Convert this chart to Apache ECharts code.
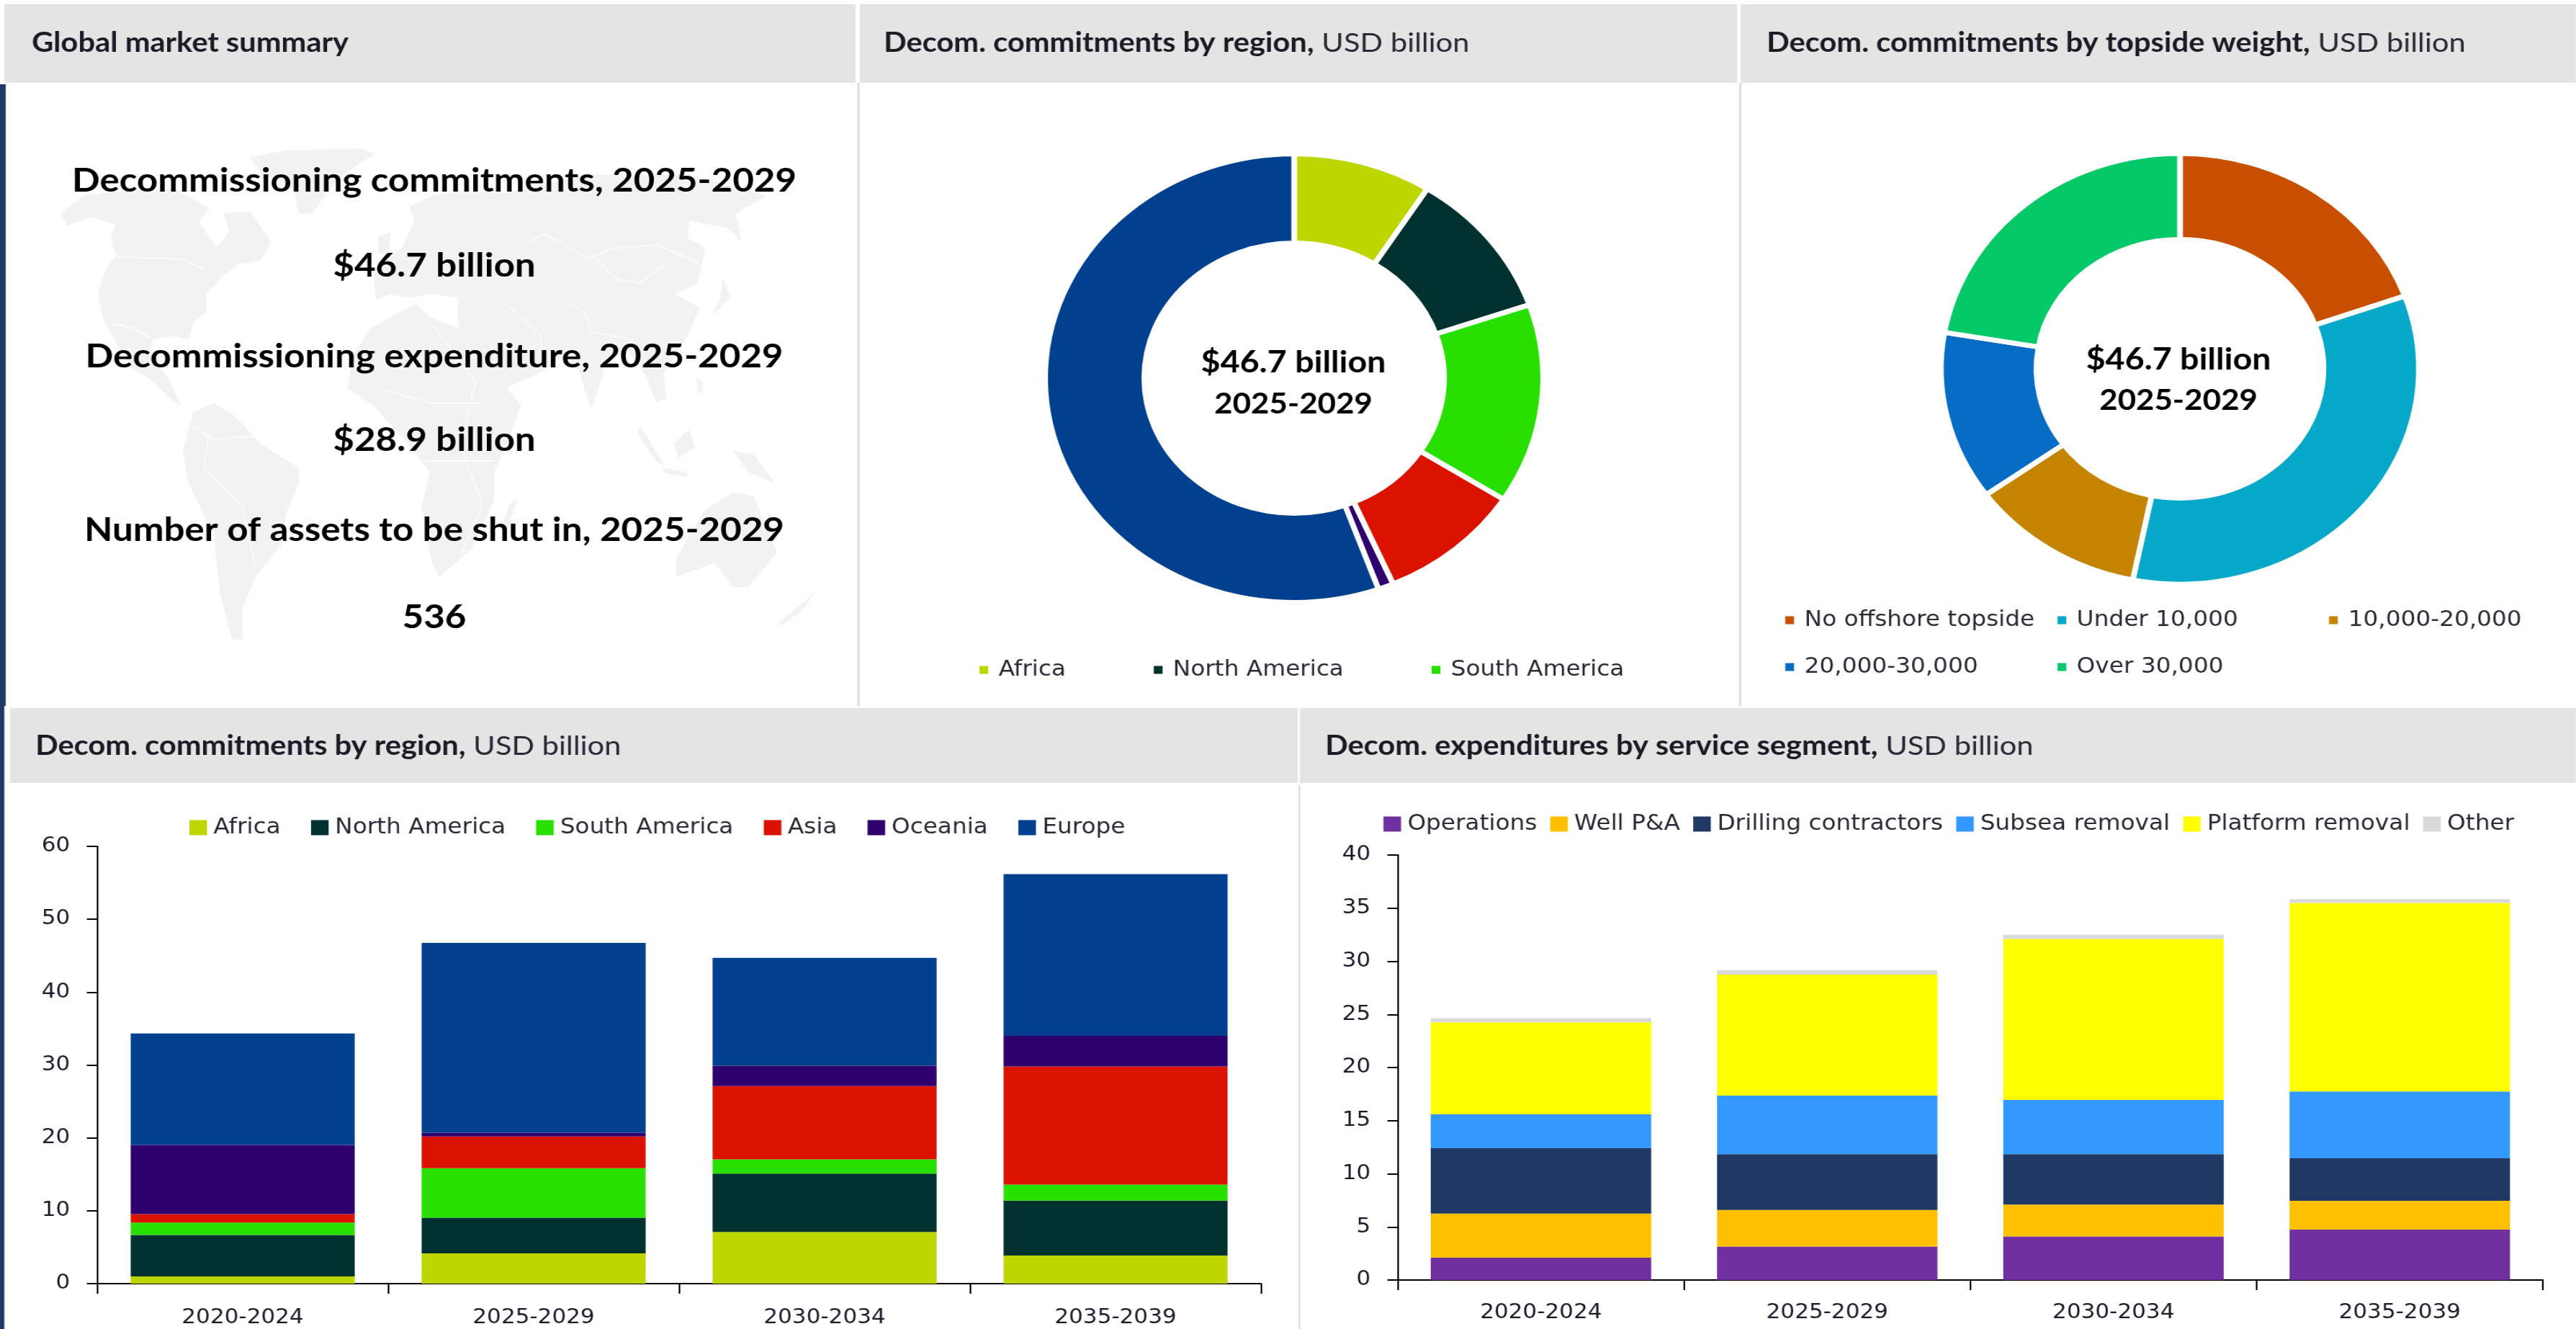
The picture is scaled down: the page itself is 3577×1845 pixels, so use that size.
<!DOCTYPE html>
<html><head><meta charset="utf-8">
<style>html,body{margin:0;padding:0;background:#fff;overflow:hidden;width:3577px;height:1845px}
#c{position:absolute;left:0;top:0;height:1845px;transform-origin:0 0;filter:blur(0.7px)}</style>
<script src="https://cdn.jsdelivr.net/npm/echarts@6/dist/echarts.min.js"></script>
</head><body><div id="c"></div>
<script>
const periods = ['2020-2024','2025-2029','2030-2034','2035-2039'];
const regionNames = ['Africa','North America','South America','Asia','Oceania','Europe'];
const africa = [1.0,4.15,7.1,3.85];
const northAmerica = [5.67,4.9,8.0,7.55];
const southAmerica = [1.7,6.8,1.95,2.2];
const asia = [1.16,4.35,10.05,16.2];
const oceania = [9.5,0.5,2.8,4.2];
const europe = [15.3,26.05,14.8,22.2];
const regionTicks = {min:0,max:60,interval:10};

const segmentNames = ['Operations','Well P&A','Drilling contractors','Subsea removal','Platform removal','Other'];
const operations = [2.1,3.15,4.1,4.75];
const wellPA = [4.15,3.45,3.0,2.7];
const drilling = [6.15,5.25,4.75,4.0];
const subsea = [3.2,5.5,5.1,6.3];
const platform = [8.65,11.4,15.15,17.75];
const other = [0.4,0.4,0.4,0.35];
const segmentTicks = {min:0,max:40,interval:5};

const topsideNames = ['No offshore topside','Under 10,000','10,000-20,000','20,000-30,000','Over 30,000'];
const topsideValues = [9.1,15.7,5.55,5.9,10.4];
const regionShare = [4.2,5.0,6.72,4.39,0.47,25.92];

const regionColors = ['#bdd600','#00312f','#28e000','#dc1200','#2e006e','#00408e'];
const segmentColors = ['#7030a0','#ffc000','#1f3864','#3399ff','#ffff00','#d9d9d9'];
const topsideColors = ['#c84e00','#05a8c8','#c48400','#066cc4','#05c968'];

const summaryLines = ['Decommissioning commitments, 2025-2029','$46.7 billion','Decommissioning expenditure, 2025-2029','$28.9 billion','Number of assets to be shut in, 2025-2029','536'];
const summaryY = [251,369,495,611,736,857];

const SX = 1.11;                       // the reference is stretched horizontally
const X = v => v / SX;
const el = document.getElementById('c');
el.style.width = (3577 / SX) + 'px';
el.style.transform = 'scaleX(' + SX + ')';
const chart = echarts.init(el);

const HEAD = 'Lato', BODY = 'DejaVu Sans';
const G = [];
function rect(x0,y0,x1,y1,fill){G.push({type:'rect',silent:true,z:1,shape:{x:X(x0),y:y0,width:X(x1-x0),height:y1-y0},style:{fill}});}
function head(x,y,b,n){
  G.push({type:'text',silent:true,z:5,x:X(x),y,style:{
    text:'{b|'+b+'}'+(n?'{n| '+n+'}':''),verticalAlign:'middle',align:'left',
    rich:{b:{font:'bold 37.5px '+HEAD,fill:'#1b1b26'},n:{font:'37.5px '+HEAD,fill:'#2a2a36'}}}});
}
function label(x,y,t,size){
  G.push({type:'text',silent:true,z:5,x:X(x),y,style:{text:t,font:'bold '+size+'px '+HEAD,fill:'#000',align:'center',verticalAlign:'middle'}});
}

// faint world map behind the summary: a decorative sketch, not data
const A = p => p.map(q=>[40+q[0]/2.8,180+q[1]/2.063]);
const mapLand = [
 A([[125,240],[210,190],[380,175],[560,170],[640,200],[700,225],[660,265],[730,340],[780,290],[760,240],[860,235],[920,300],[940,325],[900,375],[810,385],[740,430],[690,470],[690,520],[640,550],[620,600],[560,590],[480,600],[470,640],[540,710],[590,790],[550,770],[480,720],[400,680],[340,610],[290,540],[270,470],[300,400],[340,360],[320,310],[340,270],[240,250],[150,275]]),
 A([[860,80],[1000,60],[1300,55],[1340,70],[1200,140],[1100,240],[1050,240],[1030,170],[900,120]]),
 A([[640,810],[720,785],[800,820],[900,900],[1050,970],[1050,1010],[1000,1100],[980,1190],[880,1280],[830,1370],[830,1460],[790,1460],[745,1330],[720,1160],[620,1010],[600,920]]),
 [[515,456],[576,422],[600,442],[636,456],[668,466],[693,510],[704,539],[723,563],[707,607],[686,655],[686,694],[654,762],[611,800],[600,781],[586,703],[597,655],[570,620],[519,563],[483,539],[490,495]],
 [[718,694],[704,737],[698,728],[708,700]],
 [[569,287],[600,272],[632,267],[707,267],[814,243],[957,243],[1064,272],[1021,296],[1029,335],[1011,316],[957,306],[954,330],[979,345],[968,393],[936,408],[971,427],[957,461],[921,519],[925,553],[911,558],[896,519],[871,485],[843,500],[821,568],[804,514],[779,495],[757,514],[700,539],[671,500],[636,451],[636,413],[600,408],[569,413],[540,408],[522,417],[519,374],[558,345],[576,306]],
 [[939,776],[979,708],[1018,684],[1046,689],[1054,708],[1079,766],[1039,815],[1018,815],[993,781],[939,800]],
 [[889,592],[921,645],[911,640],[885,600]],
 [[936,616],[957,597],[964,621],[943,636]],
 [[921,650],[954,656],[954,662],[921,656]],
 [[1018,626],[1046,631],[1075,670],[1039,655]],
 [[1082,863],[1114,839],[1132,820],[1116,845],[1086,868]],
 [[1004,388],[1014,413],[989,437],[1000,415]],
 [[968,524],[975,530],[975,548],[968,540]],
 [[525,330],[542,322],[540,350],[526,352]]
];
const mapBorders = [
 A([[340,365],[600,370],[680,400]]),
 A([[320,555],[410,570],[480,600]]),
 A([[700,870],[680,970],[750,1020],[830,1080],[880,1250]]),
 A([[640,850],[720,890],[820,880],[880,880]]),
 [[736,335],[757,325],[818,359],[850,345],[914,340],[968,364]],
 [[828,359],[857,388],[889,393],[921,369]],
 [[793,422],[814,437],[821,461],[879,471]],
 [[600,450],[660,530],[640,620],[670,700],[640,770]],
 [[530,540],[600,560],[670,560]],
 [[590,640],[686,640]],
 [[700,420],[750,465],[757,514]]
];
mapLand.forEach(p=>G.push({type:'polygon',silent:true,z:0,
  shape:{points:p.map(q=>[X(q[0]),q[1]])},style:{fill:'#f2f2f2',stroke:'#f5f5f5',lineWidth:1}}));
mapBorders.forEach(p=>G.push({type:'polyline',silent:true,z:0,
  shape:{points:p.map(q=>[X(q[0]),q[1]])},style:{fill:'none',stroke:'#fbfbfb',lineWidth:2}}));

// headers, rails, separators
rect(6,6,1188,115,'#e4e4e4');
rect(1194,6,2412,115,'#e4e4e4');
rect(2417,6,3577,115,'#e4e4e4');
rect(14,983,1802,1087,'#e4e4e4');
rect(1805,983,3577,1087,'#e4e4e4');
rect(0,117,8,980,'#1f3864');
rect(0,980,6,1845,'#1f3864');
rect(1190.5,115,1193.5,980,'#dcdcdc');
rect(2415,115,2418,980,'#dcdcdc');
rect(1803,1090,1805.5,1845,'#dcdcdc');

head(44,60,'Global market summary');
head(1227,60,'Decom. commitments by region,','USD billion');
head(2453,60,'Decom. commitments by topside weight,','USD billion');
head(49,1036,'Decom. commitments by region,','USD billion');
head(1840,1036,'Decom. expenditures by service segment,','USD billion');
summaryLines.forEach((t,i)=>label(603,summaryY[i],t,46));
label(1796,503,'$46.7 billion',42); label(1796,561,'2025-2029',39.5);
label(3025,499,'$46.7 billion',42); label(3025,556,'2025-2029',39.5);

const fmtAxis = (gridIndex,ticks,mx)=>({
  x:{gridIndex,type:'category',data:periods,boundaryGap:true,
     axisLine:{lineStyle:{color:'#000',width:2}},axisTick:{show:true,length:14,lineStyle:{color:'#000',width:2}},
     axisLabel:{fontSize:28,fontFamily:BODY,color:'#1a1a2a',margin:mx,interval:0}},
  y:{gridIndex,type:'value',min:ticks.min,max:ticks.max,interval:ticks.interval,
     axisLine:{show:true,lineStyle:{color:'#000',width:2}},axisTick:{show:true,length:13,lineStyle:{color:'#000',width:2}},
     splitLine:{show:false},axisLabel:{fontSize:28,fontFamily:BODY,color:'#1a1a2a',margin:34}}
});
const ax0 = fmtAxis(0,regionTicks,34), ax1 = fmtAxis(1,segmentTicks,32);
const stackSeries = (names,rows,colors,idx,stack)=>names.map((name,i)=>({
  name,type:'bar',stack,xAxisIndex:idx,yAxisIndex:idx,barWidth:'77%',data:rows[i],
  itemStyle:{color:colors[i]},emphasis:{disabled:true},animation:false
}));
const regionRows = [africa,northAmerica,southAmerica,asia,oceania,europe];
const segmentRows = [operations,wellPA,drilling,subsea,platform,other];
const legendBase = {icon:'rect',selectedMode:false,itemStyle:{borderWidth:0}};
const bigText = {fontFamily:BODY,fontSize:29.5,color:'#2a2a36',padding:[0,0,0,3]};
const smallText = {fontFamily:BODY,fontSize:29.5,color:'#2a2a36',padding:[0,0,0,8]};
const topsideColumn = (names,x)=>({...legendBase,orient:'vertical',left:X(x),top:846,itemGap:35,itemWidth:11,itemHeight:11,
  data:names,textStyle:smallText,padding:0});

const option = {
  animation:false,
  backgroundColor:'#fff',
  graphic:G,
  grid:[
    {left:X(135),width:X(1751-135),top:1175,height:607,containLabel:false},
    {left:X(1941),width:X(3531-1941),top:1187,height:590,containLabel:false}
  ],
  xAxis:[ax0.x,ax1.x],
  yAxis:[ax0.y,ax1.y],
  legend:[
    {...legendBase,left:X(263),top:1134,itemGap:38,itemWidth:22,itemHeight:21,padding:0,data:regionNames,textStyle:bigText},
    {...legendBase,left:X(1921),top:1129,itemGap:16.5,itemWidth:22,itemHeight:21,padding:0,data:segmentNames,textStyle:bigText},
    {...legendBase,left:X(1360),top:915,itemGap:110,itemWidth:11,itemHeight:11,padding:0,data:regionNames.slice(0,3),textStyle:smallText},
    topsideColumn([topsideNames[0],topsideNames[3]],2479),
    topsideColumn([topsideNames[1],topsideNames[4]],2857),
    topsideColumn([topsideNames[2]],3234)
  ],
  series:[
    ...stackSeries(regionNames,regionRows,regionColors,0,'region'),
    ...stackSeries(segmentNames,segmentRows,segmentColors,1,'segment'),
    {type:'pie',center:[X(1797),525],radius:[187.5,311.5],startAngle:90,clockwise:true,label:{show:false},labelLine:{show:false},
     silent:true,itemStyle:{borderColor:'#fff',borderWidth:7},
     data:regionNames.map((name,i)=>({name,value:regionShare[i],itemStyle:{color:regionColors[i]}}))},
    {type:'pie',center:[X(3027),512],radius:[179.5,299],startAngle:90,clockwise:true,label:{show:false},labelLine:{show:false},
     silent:true,itemStyle:{borderColor:'#fff',borderWidth:7},
     data:topsideNames.map((name,i)=>({name,value:topsideValues[i],itemStyle:{color:topsideColors[i]}}))}
  ]
};
chart.setOption(option);
</script></body></html>
